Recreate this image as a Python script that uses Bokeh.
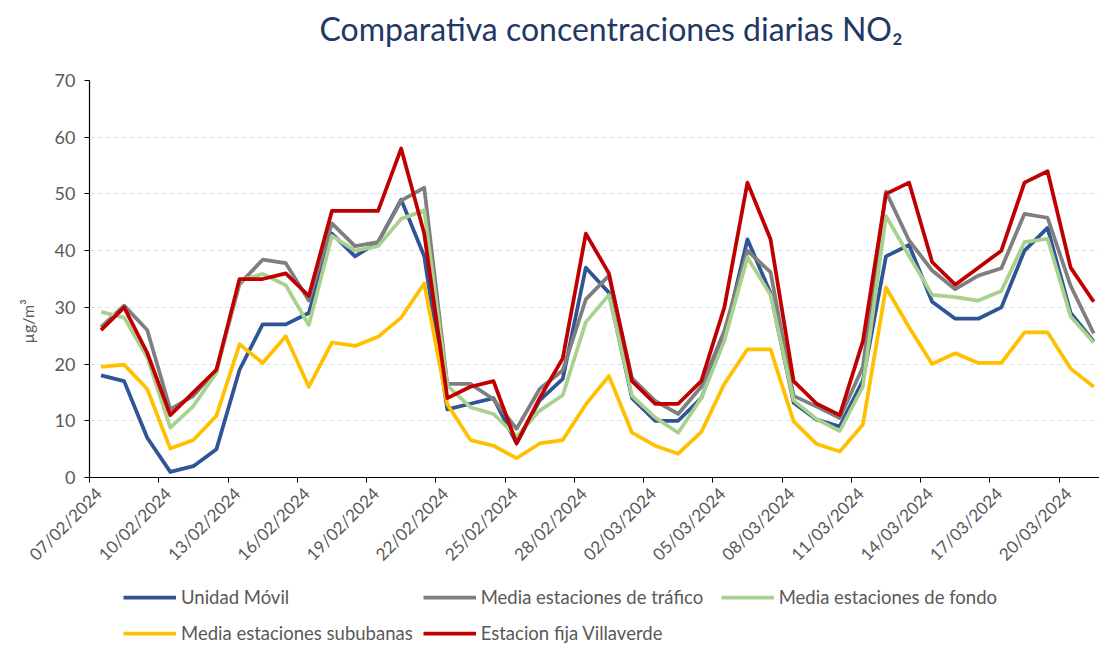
import math
import pandas as pd
from bokeh.plotting import figure
from bokeh.layouts import column
from bokeh.models import (FixedTicker, Legend, LegendItem, Range1d, Title, LinearAxis,
                          CustomJSTickFormatter)
from bokeh.embed import file_html
from bokeh.resources import INLINE

# ---- data ----
dates = [d.strftime("%d/%m/%Y") for d in pd.date_range("2024-02-07", "2024-03-21")]
tick_every = 3
tick_labels = dates[::tick_every]

unidad_movil = [18, 17, 7, 1, 2, 5, 19, 27, 27, 29, 43, 39, 41.5, 49, 39, 12, 13, 14, 6, 13.6,
                17.4, 37, 32.6, 14, 10, 10, 14, 24.7, 42, 32.5, 13.2, 10.2, 9, 17.1, 39, 41, 31,
                28, 28, 30, 40, 44, 29, 24]
media_trafico = [26.5, 30.3, 26, 12, 14.4, 19, 34.1, 38.4, 37.8, 31.2, 44.8, 40.8, 41.5, 48.8,
                 51.1, 16.5, 16.5, 13.8, 8.6, 15.6, 18.9, 31.4, 35.6, 17.5, 13.5, 11.2, 16, 25.9,
                 40, 36.2, 14.4, 12.5, 10.5, 19.5, 50.4, 41.8, 36.5, 33.2, 35.6, 36.9, 46.5, 45.8,
                 33.8, 25.4]
media_fondo = [29.2, 28.2, 21.2, 8.8, 12.6, 18.5, 34.7, 35.9, 33.9, 26.9, 42.6, 40, 40.8, 45.6,
               47.1, 16.2, 12.4, 11.2, 7.2, 11.8, 14.5, 27.4, 32.2, 14.4, 10.6, 7.9, 14, 24.1,
               38.8, 32.2, 13.6, 10.3, 8.2, 16, 46.1, 39.1, 32.2, 31.8, 31.2, 32.9, 41.5, 42.1,
               28.4, 23.8]
media_sububanas = [19.5, 19.9, 15.6, 5.1, 6.6, 10.9, 23.5, 20.2, 24.9, 16, 23.8, 23.2, 24.8,
                   28.2, 34.2, 12.9, 6.6, 5.6, 3.4, 6, 6.6, 12.9, 17.9, 7.9, 5.6, 4.2, 8, 16.5,
                   22.6, 22.6, 9.9, 5.9, 4.6, 9.3, 33.5, 26.5, 20, 21.9, 20.2, 20.2, 25.6, 25.6,
                   19.2, 16]
villaverde = [26, 30, 22, 11, 15, 19, 35, 35, 36, 32, 47, 47, 47, 58, 43, 14, 16, 17, 6, 14, 21,
              43, 36, 17, 13, 13, 17, 30, 52, 42, 17, 13, 11, 24, 50, 52, 38, 34, 37, 40, 52, 54,
              37, 31]

series_names = ["Unidad Móvil", "Media estaciones de tráfico", "Media estaciones de fondo",
                "Media estaciones sububanas", "Estacion fija Villaverde"]
series_values = [unidad_movil, media_trafico, media_fondo, media_sububanas, villaverde]
series_colors = ["#2f5597", "#7f7f7f", "#a9d18e", "#ffc000", "#c00000"]

x = list(range(len(dates)))

FONT = "Lato"
TXT = "#595959"

p = figure(width=1099, height=574, output_backend="svg", toolbar_location=None,
           x_range=Range1d(-0.5, 43.25), y_range=Range1d(0, 70),
           min_border_left=88, min_border_right=0, min_border_top=80, min_border_bottom=97)

# spacer between the title and the plot area (pushes the title upward)
p.add_layout(Title(text=" ", text_font_size="20px", standoff=4), "above")

p.title.text = "Comparativa concentraciones diarias NO₂"
p.title.text_font = FONT
p.title.text_font_size = "32px"
p.title.text_font_style = "normal"
p.title.text_color = "#1f3864"
p.title.align = "left"
p.title.offset = 230
p.title.standoff = 10

p.outline_line_color = None
p.xgrid.grid_line_color = None
p.ygrid.grid_line_color = "#d6e4f5"
p.ygrid.grid_line_dash = "5 3"
p.ygrid.grid_line_width = 1

p.yaxis.ticker = FixedTicker(ticks=list(range(0, 71, 10)))

# y unit label as a side title, placed like the reference
p.add_layout(Title(text="µg/m³", text_font=FONT, text_font_size="16px", text_font_style="normal",
                   text_color=TXT, align="left", offset=134, standoff=30), "left")

tick_pos = [i - 0.5 for i in range(0, len(dates), tick_every)]
p.xaxis.ticker = FixedTicker(ticks=tick_pos)
p.xaxis.formatter = CustomJSTickFormatter(code="return ''")

for ax in (p.xaxis, p.yaxis):
    ax.axis_line_color = "#000000"
    ax.axis_line_width = 1.2
    ax.major_tick_line_color = "#000000"
    ax.major_tick_in = 0
    ax.major_tick_out = 5
    ax.minor_tick_line_color = None
    ax.major_label_text_font = FONT
    ax.major_label_text_color = TXT
p.yaxis.major_label_text_font_size = "18px"
p.yaxis.major_label_standoff = 9
p.xaxis.major_label_text_font_size = "2px"
p.xaxis.major_label_standoff = 0

# date labels (slightly shifted right of the tick marks, as in the reference)
label_shift = 0.4
lab_pos = [t + label_shift for t in tick_pos]
xlab = LinearAxis(ticker=FixedTicker(ticks=lab_pos),
                  major_label_overrides={t: lab for t, lab in zip(lab_pos, tick_labels)},
                  axis_line_color=None, major_tick_line_color=None, minor_tick_line_color=None,
                  major_label_orientation=math.pi / 4, major_label_text_font=FONT,
                  major_label_text_font_size="17px", major_label_text_color=TXT,
                  major_label_standoff=2)
p.add_layout(xlab, "below")

for name, vals, col in zip(series_names, series_values, series_colors):
    p.line(x, vals, line_color=col, line_width=3.75, line_join="round")

# legend in a strip below the chart (dummy renderers lie outside the visible range)
p2 = figure(width=1099, height=72, output_backend="svg", toolbar_location=None,
            x_range=Range1d(0, 1), y_range=Range1d(0, 1), min_border=0,
            x_axis_location=None, y_axis_location=None)
p2.outline_line_color = None
p2.grid.visible = False
items = []
for name, col in zip(series_names, series_colors):
    r = p2.line([-5, -4], [-5, -4], line_color=col, line_width=3.75)
    items.append(LegendItem(label=name, renderers=[r]))
legend = Legend(items=items, orientation="horizontal", ncols=3, location=(34, 0),
                border_line_color=None, background_fill_alpha=0,
                label_text_font=FONT, label_text_font_size="18.5px", label_text_color=TXT,
                glyph_width=53, glyph_height=26, label_height=26, label_width=230,
                label_standoff=5, spacing=10, padding=0, margin=0)
p2.add_layout(legend, "center")

layout = column(p, p2, spacing=0)
open("out.html", "w").write(file_html(layout, INLINE))
